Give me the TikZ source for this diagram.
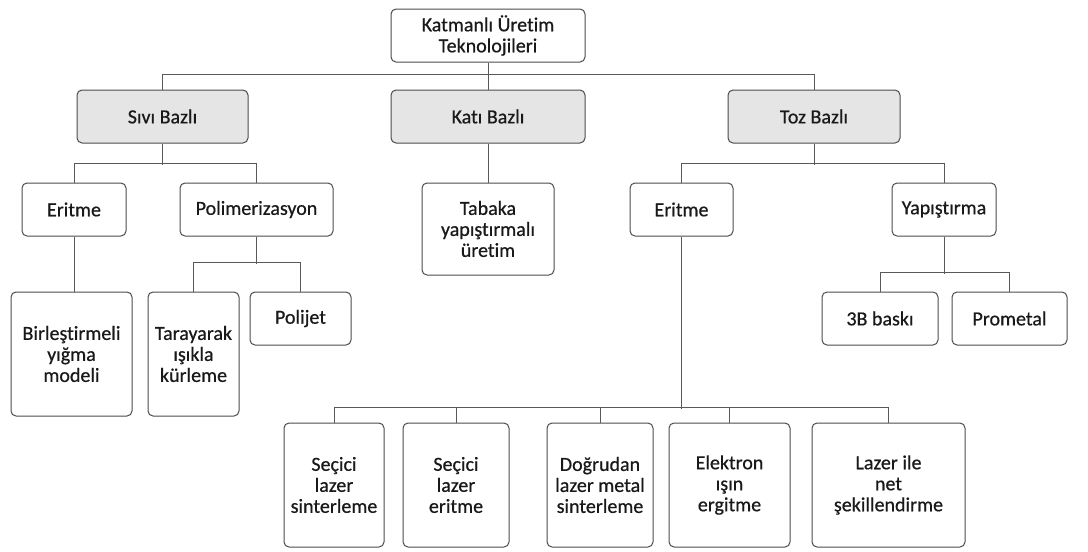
\documentclass[tikz,border=0pt]{standalone}
\usepackage{fontspec}
\setmainfont[Ligatures=NoCommon, FakeBold=0.6]{Carlito}
\begin{document}
\begin{tikzpicture}[x=1pt, y=-1pt,
  box/.style={draw=black!70, line width=1pt, rounded corners=5pt, align=center,
    inner sep=0pt, text=black!90, font=\fontsize{20}{21}\selectfont},
  headbox/.style={box, fill=black!10},
  link/.style={draw=black!65, line width=1pt}]
  \useasboundingbox (0,0) rectangle (1088,552);

  % Root
  \node[box, minimum width=194, minimum height=53] (root) at (488,35.5) {Katmanlı Üretim\\Teknolojileri};

  % Main groups
  \node[headbox, minimum width=171, minimum height=53] (sivi) at (162.5,116.5) {Sıvı Bazlı};
  \node[headbox, minimum width=194, minimum height=53] (kati) at (488,116.5) {Katı Bazlı};
  \node[headbox, minimum width=172, minimum height=53] (toz) at (814,116.5) {Toz Bazlı};

  % Second level
  \node[box, minimum width=104, minimum height=53] (eritA) at (74,209.5) {Eritme};
  \node[box, minimum width=153, minimum height=53] (poli) at (256.5,209.5) {Polimerizasyon};
  \node[box, minimum width=132, minimum height=92] (tabaka) at (488,229) {Tabaka\\yapıştırmalı\\üretim};
  \node[box, minimum width=103, minimum height=53] (eritB) at (681.5,209.5) {Eritme};
  \node[box, minimum width=104, minimum height=53] (yapis) at (944,209.5) {Yapıştırma};

  % Third level
  \node[box, minimum width=121, minimum height=124] (birl) at (71.5,354) {Birleştirmeli\\yığma\\modeli};
  \node[box, minimum width=91, minimum height=124] (tara) at (193.5,354) {Tarayarak\\ışıkla\\kürleme};
  \node[box, minimum width=101, minimum height=53] (polijet) at (300.5,318.5) {Polijet};
  \node[box, minimum width=116, minimum height=53] (baski) at (880,318.5) {3B baskı};
  \node[box, minimum width=115, minimum height=53] (prom) at (1009.5,318.5) {Prometal};

  % Bottom row
  \node[box, minimum width=100, minimum height=124] (sls) at (334,485) {Seçici\\lazer\\sinterleme};
  \node[box, minimum width=106, minimum height=124] (slm) at (456,485) {Seçici\\lazer\\eritme};
  \node[box, minimum width=106, minimum height=124] (dmls) at (600,485) {Doğrudan\\lazer metal\\sinterleme};
  \node[box, minimum width=121, minimum height=124] (ebm) at (729.5,485) {Elektron\\ışın\\ergitme};
  \node[box, minimum width=153, minimum height=124] (lens) at (888.5,485) {Lazer ile\\net\\şekillendirme};

  % Connectors
  \draw[link] (root) -- (kati);
  \draw[link] (sivi.north) -- ++(0,-15) -| (toz.north);
  \draw[link] (sivi.south) -- ++(0,21);
  \draw[link] (eritA.north) -- ++(0,-19) -| (poli.north);
  \draw[link] (kati) -- (tabaka);
  \draw[link] (toz.south) -- ++(0,21);
  \draw[link] (eritB.north) -- ++(0,-19) -| (yapis.north);
  \draw[link] (eritA.south) -- (eritA.south |- birl.north);
  \draw[link] (poli.south) -- ++(0,27);
  \draw[link] (tara.north) -- ++(0,-29) -| (polijet.north);
  \draw[link] (yapis.south) -- ++(0,37);
  \draw[link] (baski.north) -- ++(0,-19) -| (prom.north);
  \draw[link] (eritB.south) -- ++(0,172);
  \draw[link] (sls.north) -- ++(0,-15) -| (lens.north);
  \draw[link] (slm.north) -- ++(0,-15);
  \draw[link] (dmls.north) -- ++(0,-15);
  \draw[link] (ebm.north) -- ++(0,-15);
\end{tikzpicture}
\end{document}
